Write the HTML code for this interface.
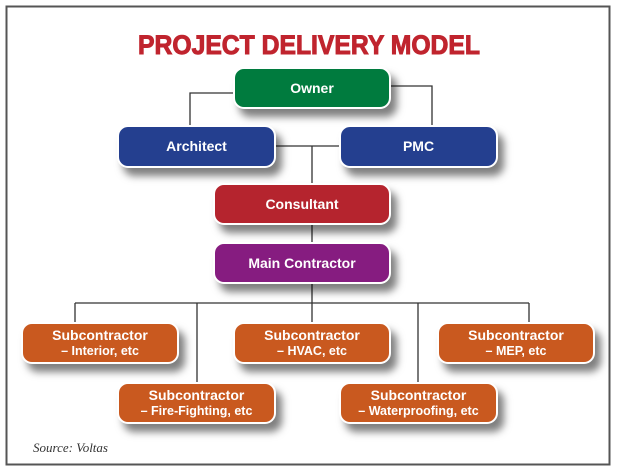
<!DOCTYPE html>
<html><head><style>
html,body{margin:0;padding:0;background:#fff;}
body{width:618px;height:472px;position:relative;overflow:hidden;font-family:"Liberation Sans",sans-serif;}
.b{position:absolute;border:2px solid #fff;border-radius:11px;box-sizing:border-box;color:#fff;font-weight:bold;text-align:center;box-shadow:6px 8px 8px rgba(0,0,0,0.5);display:flex;flex-direction:column;justify-content:center;font-size:14px;line-height:17px;}
.o{background:#c9591f;font-size:14px;line-height:16px;}
.o span{font-size:12.5px;}
</style></head><body>
<svg width="618" height="472" style="position:absolute;left:0;top:0">
<rect x="6.5" y="6.5" width="603" height="458" fill="none" stroke="#555" stroke-width="2"/>
<text x="309" y="54" text-anchor="middle" font-family="Liberation Sans" font-weight="bold" font-size="27" fill="#c0242e" stroke="#c0242e" stroke-width="1" textLength="342" lengthAdjust="spacingAndGlyphs">PROJECT DELIVERY MODEL</text>
<g stroke="#333" stroke-width="1.3" fill="none">
<polyline points="234,93 190,93 190,126"/>
<polyline points="391,86 432,86 432,126"/>
<line x1="276" y1="146" x2="340" y2="146"/>
<line x1="312" y1="146" x2="312" y2="243"/>
<line x1="312" y1="283" x2="312" y2="323"/>
<line x1="75" y1="303" x2="529" y2="303"/>
<line x1="75" y1="303" x2="75" y2="323"/>
<line x1="197" y1="303" x2="197" y2="383"/>
<line x1="418" y1="303" x2="418" y2="383"/>
<line x1="529" y1="303" x2="529" y2="323"/>
</g>
<text x="33" y="452" font-family="Liberation Serif" font-style="italic" font-size="13" fill="#333">Source: Voltas</text>
</svg>
<div class="b" style="left:233px;top:67px;width:158px;height:42px;background:#007b3e">Owner</div>
<div class="b" style="left:117px;top:125px;width:159px;height:43px;background:#243f8f">Architect</div>
<div class="b" style="left:339px;top:125px;width:159px;height:43px;background:#243f8f">PMC</div>
<div class="b" style="left:213px;top:183px;width:178px;height:42px;background:#b5242e">Consultant</div>
<div class="b" style="left:213px;top:242px;width:178px;height:42px;background:#861c80">Main Contractor</div>
<div class="b o" style="left:21px;top:322px;width:158px;height:42px">Subcontractor<span>– Interior, etc</span></div>
<div class="b o" style="left:233px;top:322px;width:158px;height:42px">Subcontractor<span>– HVAC, etc</span></div>
<div class="b o" style="left:437px;top:322px;width:158px;height:42px">Subcontractor<span>– MEP, etc</span></div>
<div class="b o" style="left:117px;top:382px;width:159px;height:42px">Subcontractor<span>– Fire-Fighting, etc</span></div>
<div class="b o" style="left:339px;top:382px;width:159px;height:42px">Subcontractor<span>– Waterproofing, etc</span></div>
</body></html>
